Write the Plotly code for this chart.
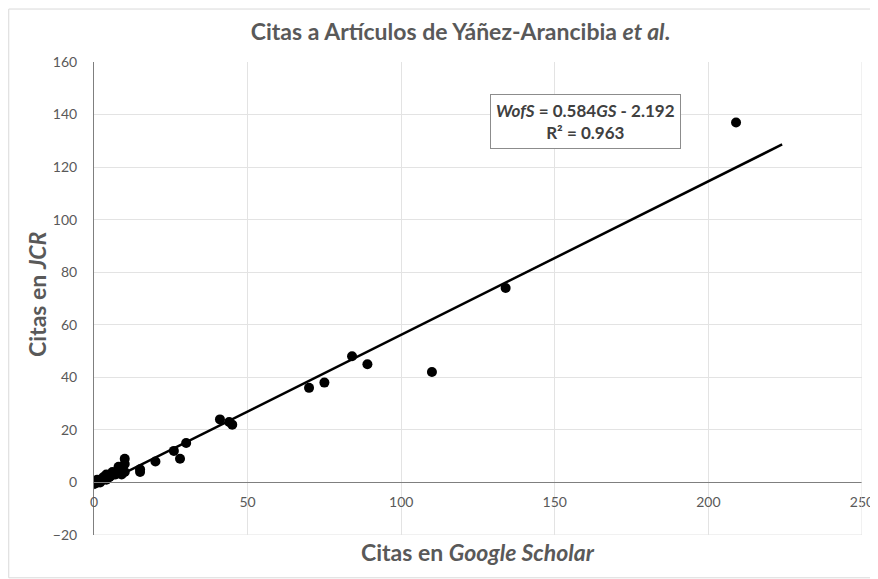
import plotly.graph_objects as go

# citations per article: Google Scholar (x) vs JCR / WofS (y)
gs_citations = [0, 0, 1, 1, 2, 2, 3, 4, 4, 5, 6, 7, 8, 8, 9, 10, 10, 10,
                15, 15, 20, 26, 28, 30, 41, 44, 45, 70, 75, 84, 89, 110, 134, 209]
jcr_citations = [0, 0, 0, 1, 1, 0, 2, 3, 1, 2, 4, 3, 5, 6, 3, 9, 7, 4,
                 5, 4, 8, 12, 9, 15, 24, 23, 22, 36, 38, 48, 45, 42, 74, 137]

# linear trendline as reported on the chart
slope = 0.584
intercept = -2.192
r_squared = 0.963
trend_x = [0, 224]
trend_y = [slope * x + intercept for x in trend_x]

x_ticks = [0, 50, 100, 150, 200, 250]
y_ticks = [-20, 0, 20, 40, 60, 80, 100, 120, 140, 160]

GRAY = "#595959"
FONT = "Lato"

fig = go.Figure()
fig.add_trace(go.Scatter(
    x=trend_x, y=trend_y, mode="lines",
    line=dict(color="black", width=2.5), showlegend=False, hoverinfo="skip",
))
fig.add_trace(go.Scatter(
    x=gs_citations, y=jcr_citations, mode="markers",
    marker=dict(color="black", size=10), showlegend=False,
))

# page body has an 8px margin, so the figure is a bit smaller than the window
fig.update_layout(
    width=870, height=571,
    margin=dict(l=86, r=16, t=54, b=44),
    paper_bgcolor="white", plot_bgcolor="white",
    font=dict(family=FONT, color=GRAY, size=14),
    title=dict(
        text="<b>Citas a Artículos de Yáñez-Arancibia <i>et al</i>.</b>",
        x=0.52, xanchor="center", y=0.958, yanchor="middle",
        font=dict(family=FONT, size=23, color=GRAY),
    ),
    xaxis=dict(
        range=[0, 250], tickvals=x_ticks, showgrid=True, gridcolor="#e3e3e3",
        gridwidth=1, zeroline=False, showline=True, linecolor="#7f7f7f",
        linewidth=1, anchor="free", position=(535 - 482) / 473,
        ticks="", automargin=False, ticklabelstandoff=7,
        tickfont=dict(size=14, color=GRAY),
    ),
    yaxis=dict(
        range=[-20, 160], tickvals=y_ticks, showgrid=True, gridcolor="#e3e3e3",
        gridwidth=1, zeroline=False, showline=True, linecolor="#7f7f7f",
        linewidth=1, ticks="", automargin=False, ticklabelstandoff=13,
        tickfont=dict(size=14, color=GRAY),
    ),
)

# right / bottom border lines of plot area (light gridline colour)
fig.add_shape(type="line", xref="x", yref="y", x0=0, x1=250, y0=-20, y1=-20,
              line=dict(color="#e3e3e3", width=1))
fig.add_shape(type="line", xref="x", yref="y", x0=250, x1=250, y0=-20, y1=160,
              line=dict(color="#e3e3e3", width=1))

# axis titles
fig.add_annotation(
    text="<b>Citas en <i>Google Scholar</i></b>", xref="paper", yref="paper",
    x=0.5, y=-0.036, xanchor="center", yanchor="middle", showarrow=False,
    font=dict(size=23, color=GRAY),
)
fig.add_annotation(
    text="<b>Citas en <i>JCR</i></b>", xref="paper", yref="paper",
    x=-0.074, y=0.51, xanchor="center", yanchor="middle", showarrow=False,
    textangle=-90, font=dict(size=23, color=GRAY),
)

# equation box
fig.add_annotation(
    text=f"<b><i>WofS</i> = {slope:.3f}<i>GS</i> - {abs(intercept):.3f}<br>R² = {r_squared:.3f}</b>",
    xref="x", yref="y", x=160, y=137.5, xanchor="center", yanchor="middle",
    showarrow=False, align="center", bordercolor="#8c8c8c", borderwidth=1,
    borderpad=5, bgcolor="white", font=dict(size=17, color="#404040"),
)

# outer chart border
fig.add_shape(type="rect", xref="paper", yref="paper",
              x0=-0.111, x1=1.018, y0=-0.0905, y1=1.112,
              line=dict(color="#d9d9d9", width=1), layer="below")

fig.write_html("out.html")
